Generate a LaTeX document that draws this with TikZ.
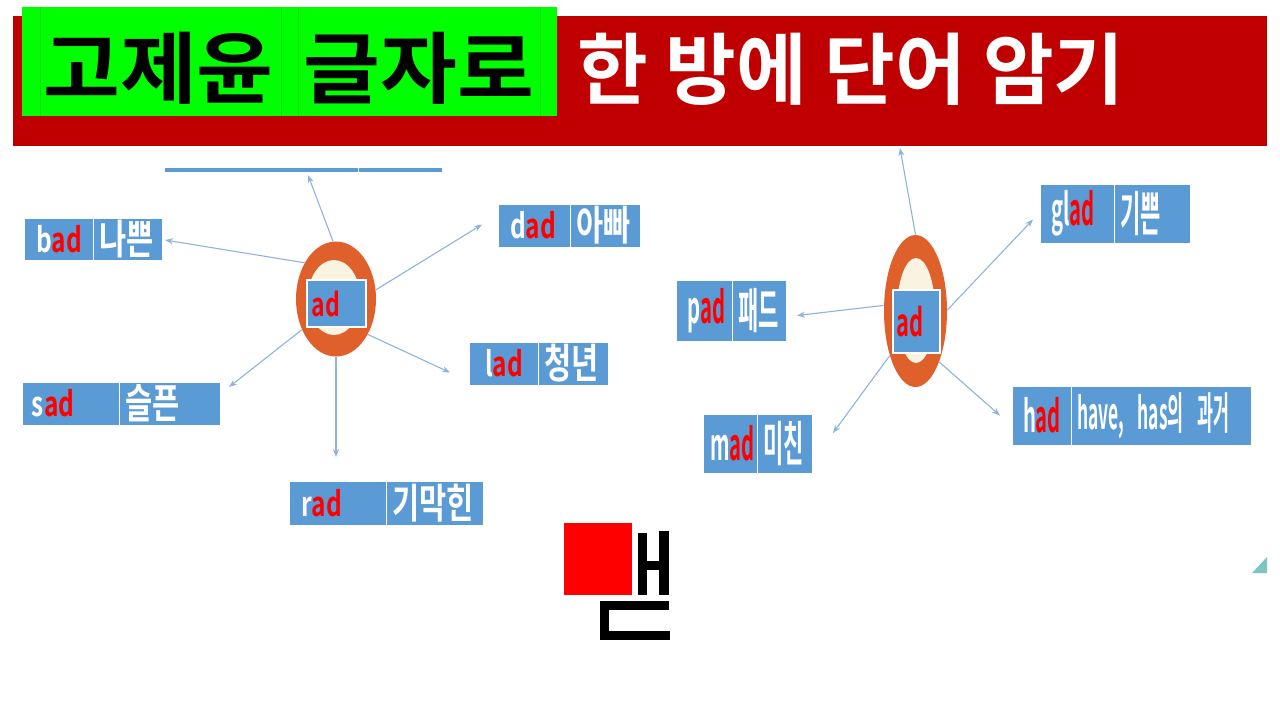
\documentclass[tikz,border=0pt]{standalone}
\usepackage{fontspec}
\usepackage{graphicx}
\usetikzlibrary{shapes.geometric,arrows.meta,calc}
\newfontfamily\hdrfont{Noto Sans CJK KR Bold}
\newfontfamily\boxfontL{Noto Sans CJK KR Bold}[FakeStretch=0.72]
\newfontfamily\boxfontR{Noto Sans CJK KR Bold}[FakeStretch=0.46]
\definecolor{banner}{HTML}{C00000}
\definecolor{hgreen}{HTML}{00FF00}
\definecolor{cellblue}{HTML}{5B9BD5}
\definecolor{adred}{HTML}{FF0000}
\definecolor{ringor}{HTML}{E0602C}
\definecolor{cream}{HTML}{FAF3E2}
\definecolor{arrowblue}{HTML}{8DB3E2}
\definecolor{teal}{HTML}{7CC6C1}
\tikzset{
  cell/.style={fill=cellblue, draw=white, line width=0.5pt, outer sep=0pt, inner ysep=0pt, align=left, text=white},
  wtxtL/.style={font=\boxfontL\fontsize{17}{19}\selectfont},
  mtxtL/.style={font=\boxfontL\fontsize{20.5}{22}\selectfont},
  wtxtR/.style={font=\boxfontR\fontsize{22}{24}\selectfont},
  mtxtR/.style={font=\boxfontR\fontsize{24}{26}\selectfont},
  conn/.style={draw=arrowblue, line width=0.55pt, -{Stealth[length=4pt,width=3pt]}},
  hdr/.style={inner sep=0pt, font=\hdrfont\fontsize{39}{44}\selectfont},
  ring/.style={ellipse, fill=ringor, inner sep=0pt},
  hole/.style={ellipse, fill=cream, inner sep=0pt},
  centerbox/.style={fill=cellblue, draw=white, line width=0.8pt, inner ysep=0pt, align=left, text=adred},
  glyph/.style={fill=black, draw=none}
}
\def\wpad{6pt}\def\mpad{3pt}
% name, x1, y1, xsplit, x2, y2, prefix, meaning, side (L/R)
\newcommand\wordbox[9]{%
  \pgfmathsetlengthmacro\wa{(#4-#2)*0.5pt}%
  \pgfmathsetlengthmacro\wb{(#5-#4)*0.5pt}%
  \pgfmathsetlengthmacro\hh{(#6-#3)*0.5pt}%
  \pgfmathsetlengthmacro\ta{\wa-2*\wpad}%
  \pgfmathsetlengthmacro\tb{\wb-2*\mpad}%
  \node[cell, wtxt#9, minimum width=\wa, minimum height=\hh, text width=\ta, inner xsep=\wpad, anchor=north west] (#1-w) at (#2,#3) {\mbox{#7\textcolor{adred}{ad}}};
  \node[cell, mtxt#9, minimum width=\wb, minimum height=\hh, text width=\tb, inner xsep=\mpad, anchor=north west] (#1-m) at (#4,#3) {\mbox{#8}};
}
\begin{document}
\begin{tikzpicture}[x=0.5pt,y=-0.5pt]
\useasboundingbox (0,0) rectangle (1280,720);
\fill[white] (0,0) rectangle (1280,720);

% ---------- header ----------
\fill[banner] (13,16) rectangle (1267,146);
\fill[hgreen] (22,7) rectangle (557,116);
\foreach \xx in {40,281,298,540} \draw[green!88!black, line width=0.3pt] (\xx,7) -- (\xx,116);
\node[hdr, text=black] (t1) at (158.5,68) {\scalebox{1.07}[1]{고제윤}};
\node[hdr, text=black] (t2) at (419,68) {\scalebox{1.07}[1]{글자로}};
\node[hdr, text=white, anchor=west] (t3) at (577,69) {\scalebox{0.985}[1]{한 방에 단어 암기}};

% ---------- left cluster ----------
\node[cell, minimum width=97pt, minimum height=2.5pt, inner sep=0pt, anchor=north west] (top-w) at (164,167) {};
\node[cell, minimum width=42pt, minimum height=2.5pt, inner sep=0pt, anchor=north west] (top-m) at (358,167) {};
\wordbox{bad}{24}{218}{93}{162}{260}{b}{나쁜}{L}
\wordbox{dad}{498}{204}{570}{640}{247}{d}{아빠}{L}
\def\wpad{8pt}
\wordbox{lad}{469}{342}{538}{608}{385}{l}{청년}{L}
\def\wpad{5pt}
\wordbox{sad}{22}{382}{119}{220}{425}{s}{슬픈}{L}
\def\wpad{6pt}
\wordbox{rad}{289}{481}{386}{483}{525}{r}{기막힌}{L}

\node[ring, minimum width=40pt, minimum height=57.5pt] (lc) at (336,299) {};
\node[hole, minimum width=26pt, minimum height=37.5pt] (li) at (334,297.5) {};
\node[centerbox, minimum width=29.5pt, minimum height=23.5pt, text width=25pt, inner xsep=2.25pt, font=\boxfontL\fontsize{16}{18}\selectfont] (la) at (336.5,303.5) {ad};

\draw[conn] (lc.93) -- ($(top-w.south east)+(-50,3)$);
\draw[conn] (lc.131) -- ($(bad-m.east)+(3,1)$);
\draw[conn] (lc.13) -- ($(dad-w.west)+(-16,-1)$);
\draw[conn] (lc.-48) -- ($(lad-w.west)+(-19,9)$);
\draw[conn] (lc.-138) -- ($(sad-m.north east)+(9,5)$);
\draw[conn] (lc.-90) -- ($(rad-w.north east)+(-50,-24)$);

% ---------- right cluster ----------
\def\wpad{5.5pt}
\wordbox{glad}{1040}{184}{1114}{1190}{243}{gl}{기쁜}{R}
\wordbox{pad}{676}{280}{732}{786}{341}{p}{패드}{R}
\wordbox{had}{1012}{386}{1071}{1251}{445}{h}{\scalebox{0.86}[1]{\fontsize{22}{24}\selectfont have, has의 과거}}{R}
\def\wpad{3.5pt}
\wordbox{mad}{703}{414}{757}{812}{473}{m}{미친}{R}

\node[ring, minimum width=31.5pt, minimum height=76pt] (rc) at (915.5,311) {};
\node[hole, minimum width=19pt, minimum height=52.5pt] (ri) at (916,310.5) {};
\node[centerbox, minimum width=23.5pt, minimum height=31.5pt, text width=20pt, inner xsep=1.75pt, font=\boxfontR\fontsize{19}{21}\selectfont] (ra) at (916.5,321.5) {\scalebox{1.25}[1]{ad}};

\coordinate (rtop) at (900,148);
\draw[conn] (rc.90) -- (rtop);
\draw[conn] (rc.2) -- ($(glad-w.west)+(-7,6)$);
\draw[conn] (rc.170) -- ($(pad-m.east)+(11,5)$);
\draw[conn] (rc.-65) -- ($(had-w.west)+(-12,0)$);
\draw[conn] (rc.-120) -- ($(mad-m.north east)+(21,19)$);

% ---------- covered glyph ----------
\fill[adred] (564,523) rectangle (632,595);
\fill[glyph] (638,533) rectangle (647,595);
\fill[glyph] (647,561) rectangle (659,570);
\fill[glyph] (659,531) rectangle (669,595);
\fill[glyph] (600,601) rectangle (669,610);
\fill[glyph] (600,601) rectangle (609,640);
\fill[glyph] (600,631) rectangle (670,640);

% ---------- corner triangle ----------
\fill[teal] (1252,573) -- (1267,557) -- (1267,573) -- cycle;
\end{tikzpicture}
\end{document}
